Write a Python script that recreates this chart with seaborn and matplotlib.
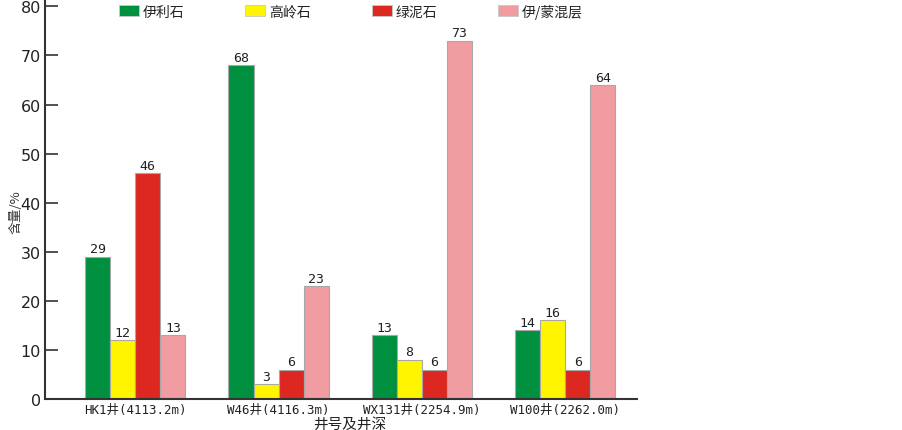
import matplotlib
matplotlib.use('Agg')
import matplotlib.pyplot as plt
import seaborn as sns
import pandas as pd
from matplotlib.patches import Patch

# ── data ────────────────────────────────────────────────────────────
wells    = ['HK1井(4113.2m)', 'W46井(4116.3m)', 'WX131井(2254.9m)', 'W100井(2262.0m)']
minerals = ['伊利石', '高岭石', '绿泥石', '伊/蒙混层']
illite    = [29, 68, 13, 14]
kaolinite = [12, 3, 8, 16]
chlorite  = [46, 6, 6, 6]
mixed     = [13, 23, 73, 64]
colors    = ['#009140', '#FFF500', '#DC2820', '#F09CA1']

rows = []
for m, vals in zip(minerals, [illite, kaolinite, chlorite, mixed]):
    for w, v in zip(wells, vals):
        rows.append({'well': w, 'mineral': m, 'value': v})
df = pd.DataFrame(rows)

sns.set_style('white')
cjk  = ['Noto Sans CJK SC', 'DejaVu Sans']
mono = ['DejaVu Sans Mono', 'Noto Sans CJK SC']
plt.rcParams['font.family'] = cjk

fig = plt.figure(figsize=(9.03, 4.31), dpi=100)
ax = fig.add_axes([45 / 903, 31 / 431, 592 / 903, 400 / 431])

sns.barplot(data=df, x='well', y='value', hue='mineral', order=wells,
            hue_order=minerals, palette=colors, saturation=1, width=0.70,
            edgecolor='#a8a8a8', linewidth=0.8, legend=False, ax=ax)

for cont in ax.containers:
    ax.bar_label(cont, padding=1, fontsize=9.5, family=mono, color='#222222')

ax.set_ylim(0, 81.5)
ax.set_xlim(-0.63, 3.5)
ax.set_yticks(range(0, 81, 10))
ax.tick_params(axis='y', direction='in', length=9.5, width=1.2, pad=3,
               labelsize=11.5, color='#333333', labelcolor='#222222', left=True)
ax.tick_params(axis='x', length=0, pad=3)
for lab in ax.get_yticklabels():
    lab.set_family('DejaVu Sans')
for lab in ax.get_xticklabels():
    lab.set_family(mono)
    lab.set_fontsize(9)
    lab.set_color('#222222')

for s in ['top', 'right']:
    ax.spines[s].set_visible(False)
for s in ['left', 'bottom']:
    ax.spines[s].set_color('#333333')
    ax.spines[s].set_linewidth(1.5)

ax.set_xlabel('井号及井深', fontsize=10.5, color='#222222')
ax.xaxis.label.set_va('center')
ax.xaxis.set_label_coords(0.515, -0.061)
ax.set_ylabel('含量/%', fontsize=9.5, color='#333333')
ax.yaxis.set_label_coords(-0.038, 0.47)

handles = [Patch(facecolor=c, edgecolor='#c8c8c8', linewidth=0.6) for c in colors]
fig.legend(handles, minerals, loc='center left', ncol=4, frameon=False,
           bbox_to_anchor=(119 / 903, 1 - 12 / 431), borderpad=0,
           borderaxespad=0, handlelength=1.45, handleheight=0.8,
           handletextpad=0.25, columnspacing=4.4, fontsize=10,
           labelcolor='#222222')

plt.savefig('out.png', dpi=100)
